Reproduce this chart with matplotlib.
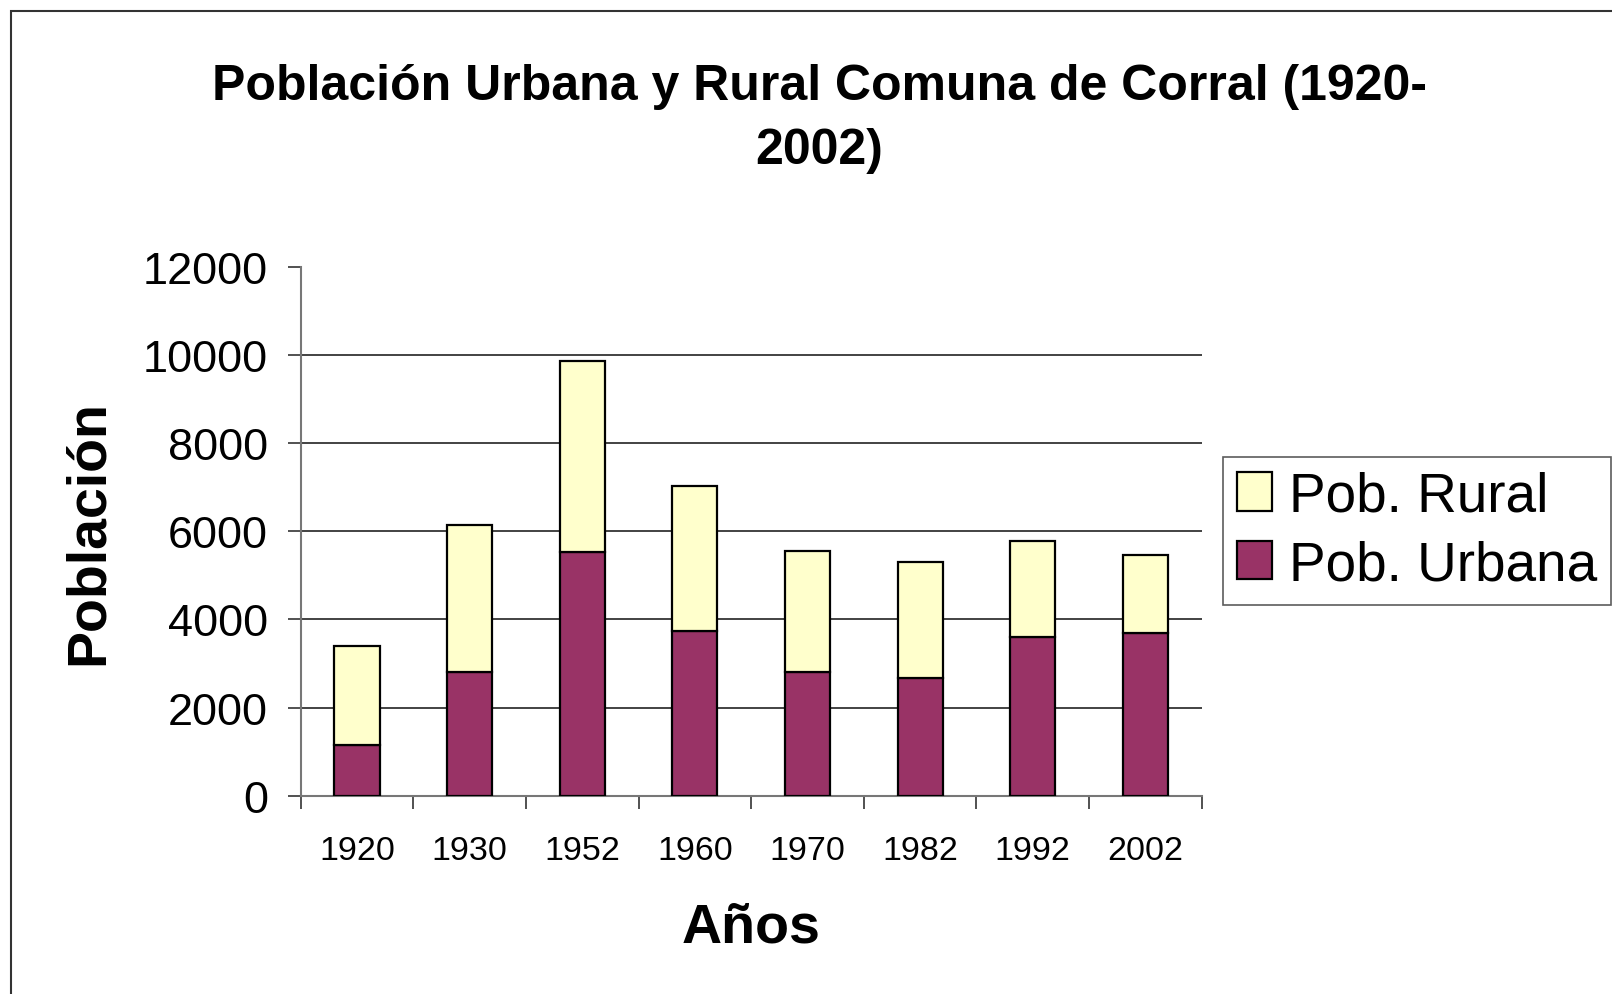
import matplotlib
matplotlib.use("Agg")
import matplotlib.pyplot as plt
from matplotlib.patches import Rectangle
import numpy as np

plt.rcParams['font.family'] = ['Liberation Sans', 'DejaVu Sans']

years = ['1920', '1930', '1952', '1960', '1970', '1982', '1992', '2002']
urbana = [1160, 2800, 5540, 3745, 2815, 2665, 3600, 3690]
rural = [2245, 3350, 4320, 3285, 2740, 2645, 2175, 1775]
yticks = [0, 2000, 4000, 6000, 8000, 10000, 12000]

W, H = 1612, 995
fig = plt.figure(figsize=(W / 100, H / 100), dpi=100)
ax = fig.add_axes([300.7 / W, 1 - 796.7 / H, 901 / W, (796.7 - 268) / H])

x = np.arange(len(years))
bw = 0.4
b1 = ax.bar(x, urbana, bw, color='#993366', edgecolor='black', linewidth=1.6, label='Pob. Urbana', zorder=3)
b2 = ax.bar(x, rural, bw, bottom=urbana, color='#FFFFCC', edgecolor='black', linewidth=1.6, label='Pob. Rural', zorder=3)

ax.set_xlim(-0.5, len(years) - 0.5)
ax.set_ylim(0, 12000)
ax.set_yticks(yticks)
ax.set_yticklabels([str(v) for v in yticks], fontsize=32.5)
ax.set_xticks(x)
ax.set_xticklabels(years, fontsize=24.5)
ax.set_xticks(np.arange(-0.5, len(years)), minor=True)
ax.tick_params(axis='x', which='major', length=0, pad=28)
ax.tick_params(axis='x', which='minor', length=9, width=1.2, color='#333333')
ax.tick_params(axis='y', length=9.5, width=1.2, color='#333333', pad=14)

ax.yaxis.grid(True, color='#222222', linewidth=1.2, zorder=0)
ax.set_axisbelow(True)
for spine in ['top', 'right']:
    ax.spines[spine].set_visible(False)
ax.spines['left'].set_color('#777777')
ax.spines['left'].set_linewidth(1.5)
ax.spines['bottom'].set_color('#777777')
ax.spines['bottom'].set_linewidth(1.5)
fig.canvas.draw()
ax.get_ygridlines()[-1].set_visible(False)
ax.get_ygridlines()[0].set_visible(False)

ax.set_xlabel('Años', fontsize=40, fontweight='bold', labelpad=26)
ax.set_ylabel('Población', fontsize=40, fontweight='bold', labelpad=20)

fig.text(819 / W, 1 - 64 / H, 'Población Urbana y Rural Comuna de Corral (1920-\n2002)',
         ha='center', va='top', fontsize=36, fontweight='bold', linespacing=1.5)

leg = fig.legend([b2, b1], ['Pob. Rural', 'Pob. Urbana'], loc='center left',
                 bbox_to_anchor=(1223 / W, 1 - 532 / H), fontsize=39.5, frameon=True,
                 fancybox=False, handlelength=0.65, handleheight=0.7, handletextpad=0.3,
                 borderpad=0.25, labelspacing=0.3, borderaxespad=0)
leg.get_frame().set_edgecolor('#333333')
leg.get_frame().set_linewidth(1.2)

fig.patches.append(Rectangle((11 / W, -0.1), 1.2, 1 - 12 / H + 0.1, transform=fig.transFigure,
                             fill=False, edgecolor='#333333', linewidth=1.5))

fig.savefig('out.png', dpi=100)
